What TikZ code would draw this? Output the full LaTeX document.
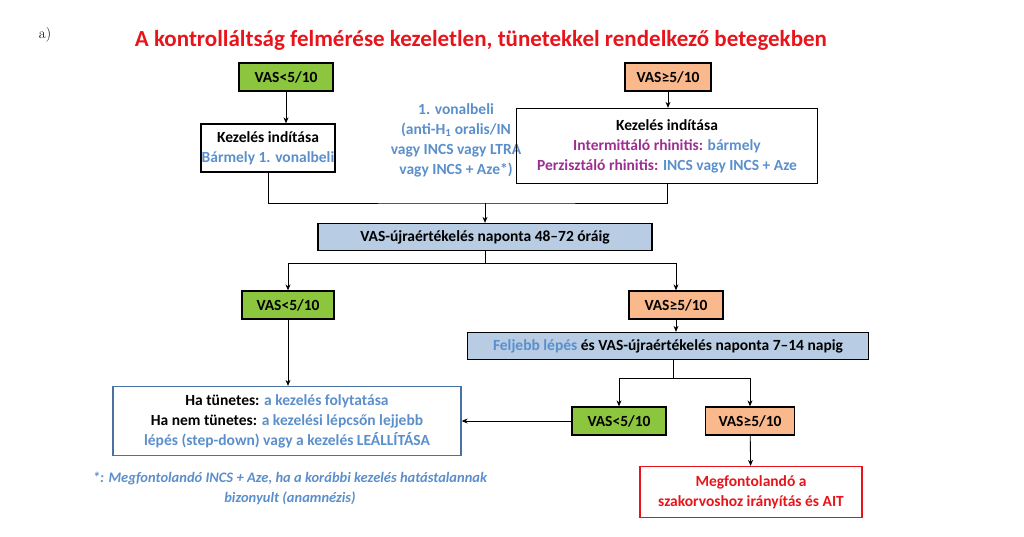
\documentclass[tikz,border=0pt]{standalone}
\usepackage{fontspec}
\setmainfont{Carlito}
\newfontfamily\lmfont{Latin Modern Roman}
\usetikzlibrary{arrows.meta}
\definecolor{gr}{HTML}{8CC63F}
\definecolor{orn}{HTML}{F9B98C}
\definecolor{bl}{HTML}{B8CCE4}
\definecolor{tb}{HTML}{5B8FCB}
\definecolor{pu}{HTML}{9B2F8F}
\definecolor{rd}{HTML}{E8141B}
\tikzset{
 x=1pt,y=-1pt,
 every node/.style={font=\bfseries\fontsize{15.5}{20}\selectfont, align=center, inner sep=0pt},
 bx/.style={draw=black, line width=1.3pt, minimum height=28pt},
 grn/.style={bx, fill=gr, minimum width=94pt},
 ora/.style={bx, fill=orn, minimum width=86pt},
 blb/.style={bx, fill=bl},
 ar/.style={-{Stealth[length=6pt,width=5pt]}, line width=0.9pt},
 ln/.style={line width=0.9pt}
}
\begin{document}
\begin{tikzpicture}
\useasboundingbox (0,0) rectangle (1024,537);
\node[font=\lmfont\fontsize{15}{16}\selectfont] (a) at (45,35) {a)};
\node[font=\bfseries\fontsize{23}{26}\selectfont, text=rd] (t) at (481,40) {A kontrolláltság felmérése kezeletlen, tünetekkel rendelkező betegekben};
\node[grn] (g1) at (286,77) {VAS<5/10};
\node[ora] (o1) at (668,77) {VAS≥5/10};
\node[bx, minimum width=134pt, minimum height=48pt] (k1) at (268,148) {Kezelés indítása\\\textcolor{tb}{Bármely 1. vonalbeli}};
\node[text=tb] (mid) at (456,140) {1. vonalbeli\\(anti-H\textsubscript{1} oralis/IN\\vagy INCS vagy LTRA\\vagy INCS + Aze*)};
\node[bx, minimum width=301pt, minimum height=75pt] (k2) at (667,146) {Kezelés indítása\\\textcolor{pu}{Intermittáló rhinitis:} \textcolor{tb}{bármely}\\\textcolor{pu}{Perzisztáló rhinitis:} \textcolor{tb}{INCS vagy INCS + Aze}};
\node[blb, minimum width=334pt, minimum height=27pt] (v1) at (485,237) {VAS-újraértékelés naponta 48–72 óráig};
\node[grn, minimum width=92pt] (g2) at (288,305) {VAS<5/10};
\node[ora, minimum width=94pt] (o2) at (676,305) {VAS≥5/10};
\node[blb, minimum width=401pt, minimum height=27pt] (v2) at (668,346) {\textcolor{tb}{Feljebb lépés} és VAS-újraértékelés naponta 7–14 napig};
\node[grn, minimum width=94pt] (g3) at (619,421) {VAS<5/10};
\node[ora, minimum width=89pt] (o3) at (750,421) {VAS≥5/10};
\node[draw=tb!80!black, line width=1.3pt, minimum width=348pt, minimum height=69pt] (h) at (287,421) {Ha tünetes: \textcolor{tb}{a kezelés folytatása}\\Ha nem tünetes: \textcolor{tb}{a kezelési lépcsőn lejjebb}\\\textcolor{tb}{lépés (step-down) vagy a kezelés LEÁLLÍTÁSA}};
\node[text=tb, font=\bfseries\itshape\fontsize{14.5}{20}\selectfont] (fn) at (290,488) {*: Megfontolandó INCS + Aze, ha a korábbi kezelés hatástalannak\\bizonyult (anamnézis)};
\node[draw=rd, line width=1.3pt, text=rd, font=\bfseries\fontsize{15.5}{20}\selectfont, minimum width=222pt, minimum height=51pt] (r) at (751,492) {Megfontolandó a\\szakorvoshoz irányítás és AIT};
\coordinate (j) at (485,203);
\coordinate (s) at (485,263);
\coordinate (u) at (673,378);
\draw[ar] (g1) -- (g1|-k1.north);
\draw[ar] (o1) -- (o1|-k2.north);
\draw[ln] (k1.south) |- (j) -| (k2.south);
\draw[ar] (j) -- (v1);
\draw[ln] (v1) -- (s);
\draw[ar] (s) -| (g2);
\draw[ar] (s) -| (o2);
\draw[ar] (g2) -- (g2|-h.north);
\draw[ar] (o2) -- (o2|-v2.north);
\draw[ln] (v2.south-|u) -- (u);
\draw[ar] (u) -| (g3);
\draw[ar] (u) -| (o3);
\draw[ar] (g3) -- (h);
\draw[ar] (o3) -- (r);
\end{tikzpicture}
\end{document}
